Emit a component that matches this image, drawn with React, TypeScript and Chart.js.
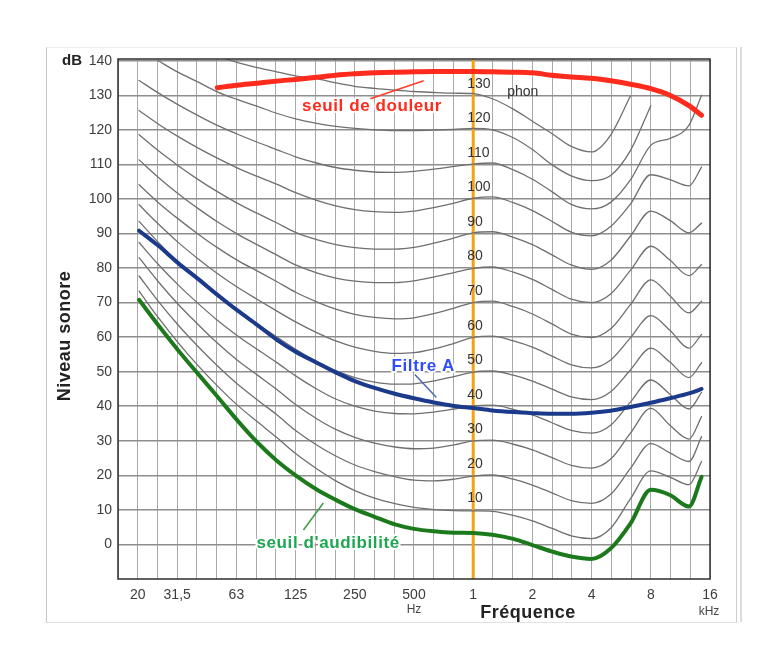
import React, { useEffect, useRef } from 'react';
import { Chart, registerables } from 'chart.js';

Chart.register(...registerables);

// Frequencies (Hz) at which all curves are sampled
const FREQ_HZ = [20, 25, 31.5, 40, 50, 63, 80, 100, 125, 160, 200, 250, 315, 400, 500, 630, 800, 1000, 1250, 1600, 2000, 2500, 3150, 4000, 5000, 6300, 8000, 10000, 12500, 14500];

// Equal-loudness contours (dB), one array per phon level
const PHON_10 = [73.3, 65.7, 58.5, 51.7, 45.9, 40.4, 35.5, 31, 26.3, 21.9, 18.4, 15.6, 13.4, 11.8, 10.7, 10.1, 9.8, 9.7, 9.6, 8.4, 6.8, 4.7, 2.5, 1.7, 4.7, 13.2, 21.3, 19.5, 17.3, 24];
const PHON_20 = [77.7, 70.4, 63.6, 57.2, 51.7, 46.5, 41.8, 37.6, 33, 28.8, 25.6, 23, 21.1, 19.6, 18.6, 18.4, 18.9, 19.8, 20.1, 18.9, 17.2, 15, 12.7, 11.9, 14.5, 22, 29.2, 26.5, 24, 31.2];
const PHON_30 = [83, 76.1, 69.6, 63.6, 58.3, 53.4, 49, 44.9, 40.5, 36.4, 33.3, 31, 29.3, 28.2, 27.7, 27.9, 28.8, 30, 30.2, 29, 27.4, 25.2, 22.9, 22.1, 24.7, 32.2, 39.4, 34.5, 30.5, 37];
const PHON_40 = [87.4, 81.1, 75.2, 69.7, 64.9, 60.5, 56.4, 52.7, 48.8, 45, 42.1, 40, 38.6, 37.9, 37.8, 38.3, 39.2, 40.1, 40.3, 39.1, 37.5, 35.3, 33, 32.2, 34.5, 41.2, 47.6, 43.5, 39.2, 44];
const PHON_50 = [93.5, 87.5, 81.8, 76.5, 71.8, 67.6, 63.7, 60.1, 56.5, 53, 50.3, 48.3, 47, 46.4, 46.5, 47.3, 48.6, 49.9, 50.2, 49, 47.3, 45, 42.7, 41.9, 44.2, 50.5, 56.8, 52.8, 48.3, 52.6];
const PHON_60 = [98.3, 92.8, 87.5, 82.6, 78.4, 74.5, 70.9, 67.6, 64.4, 61.3, 58.9, 57.1, 55.9, 55.3, 55.5, 56.6, 58.2, 59.9, 60.3, 58.9, 57.1, 54.6, 52, 51.1, 53.4, 59.8, 66.2, 62, 56.8, 60.8];
const PHON_70 = [104.1, 99, 94.3, 89.8, 85.9, 82.3, 79.1, 76.1, 73, 70.2, 68.1, 66.6, 65.7, 65.3, 65.6, 66.8, 68.4, 70, 70.4, 68.8, 66.7, 63.9, 60.9, 59.9, 62.4, 69.4, 76.6, 72, 67, 70.4];
const PHON_80 = [111.3, 106.3, 101.6, 97.2, 93.4, 89.9, 86.7, 83.8, 80.9, 78.6, 77.1, 76.2, 75.8, 75.8, 76.3, 77.4, 78.7, 79.9, 80.3, 78.8, 76.7, 73.9, 71, 70, 72.5, 79.3, 86.3, 82.3, 77.8, 81];
const PHON_90 = [118.6, 114, 109.7, 105.6, 102.1, 98.8, 95.8, 93.1, 90.3, 88.2, 86.8, 85.9, 85.5, 85.5, 86, 87.2, 88.7, 90.2, 90.5, 88.9, 86.8, 83.9, 80.9, 79.6, 82.2, 89.2, 96.5, 93.8, 90.2, 93];
const PHON_100 = [125.6, 121.7, 118.1, 114.7, 111.8, 109, 106.5, 104.3, 101.8, 99.6, 98, 96.9, 96.3, 96.1, 96.5, 97.5, 98.8, 100.2, 100.6, 98.9, 96.6, 93.6, 90.4, 89.3, 92, 98.5, 107, 105.6, 103.8, 109.2];
const PHON_110 = [134.3, 130.7, 127.3, 124.1, 121.3, 118.8, 116.4, 114.3, 112.2, 110.4, 109.1, 108.3, 107.8, 107.7, 108, 108.6, 109.4, 110.1, 110.4, 108.4, 105.7, 102.2, 98.4, 97.1, 99, 105.5, 115.5, 117.5, 121.3, 130];
const PHON_120 = [null, 140, 136.7, 133.8, 131, 128.8, 126.8, 124.8, 123.2, 121.9, 121, 120.4, 120, 119.8, 119.8, 119.9, 120.1, 120.4, 120, 117.7, 114.3, 110, 106.7, 105.3, 106.8, 114, 127, null, null, null];
const PHON_130 = [null, null, null, null, 141.5, 139.5, 138, 136.8, 135.6, 134.8, 133.6, 132.6, 132, 131.5, 131.1, 130.8, 130.6, 130.5, 129, 126, 122.5, 119, 115.2, 113.6, 118.5, 129.8, null, null, null, null];

const PHON_LEVELS = [10, 20, 30, 40, 50, 60, 70, 80, 90, 100, 110, 120, 130];
const CONTOURS = [PHON_10, PHON_20, PHON_30, PHON_40, PHON_50, PHON_60, PHON_70, PHON_80, PHON_90, PHON_100, PHON_110, PHON_120, PHON_130];

// Special curves
const HEARING_THRESHOLD = [70.8, 63.5, 56.3, 49.3, 42.8, 36, 29.5, 24.3, 20, 15.9, 12.9, 10.2, 8, 5.8, 4.5, 3.8, 3.4, 3.3, 2.8, 1.6, -0.2, -2, -3.5, -4.2, -1.2, 6, 15.8, 14.3, 11, 19.6];
const PAIN_THRESHOLD = [null, null, null, null, 132.2, 132.9, 133.5, 134.1, 134.6, 135.2, 135.8, 136.2, 136.5, 136.7, 136.8, 136.9, 136.9, 136.9, 136.8, 136.7, 136.5, 135.8, 135.3, 134.9, 134.2, 133.2, 131.9, 130, 127, 124.2];
const A_FILTER = [90.8, 86.5, 81.5, 76.8, 72.3, 67.8, 63.5, 59.3, 55.8, 52.6, 49.8, 47.3, 45.3, 43.6, 42.3, 41.1, 40.1, 39.5, 38.8, 38.3, 38, 37.8, 37.8, 38.1, 38.7, 39.8, 41, 42.3, 43.7, 45];

// Axis ticks
const X_TICK_FREQ = [20, 31.5, 63, 125, 250, 500, 1000, 2000, 4000, 8000, 16000];
const X_TICK_LABELS = ['20', '31,5', '63', '125', '250', '500', '1', '2', '4', '8', '16'];
const Y_TICKS = [0, 10, 20, 30, 40, 50, 60, 70, 80, 90, 100, 110, 120, 130, 140];

const FONT = '"Liberation Sans", Arial, Helvetica, sans-serif';

// third-octave grid lines from 15.6 Hz to 16 kHz
const GRID_FREQ = Array.from({ length: 31 }, (_, i) => 1000 * Math.pow(2, (i - 18) / 3));

function toPoints(values: (number | null)[]) {
  return FREQ_HZ.map((f, i) => ({ x: f, y: values[i] }));
}

function xLabel(v: number) {
  for (let i = 0; i < X_TICK_FREQ.length; i++) {
    if (Math.abs(Math.log2(v / X_TICK_FREQ[i])) < 0.1) return X_TICK_LABELS[i];
  }
  return '';
}

function haloText(ctx: CanvasRenderingContext2D, text: string, x: number, y: number, color: string) {
  ctx.lineJoin = 'round';
  ctx.strokeStyle = 'rgba(255,255,255,0.95)';
  ctx.lineWidth = 4;
  ctx.strokeText(text, x, y);
  ctx.fillStyle = color;
  ctx.fillText(text, x, y);
}

const overlayPlugin = {
  id: 'overlay',
  beforeDatasetsDraw(chart: any) {
    const { ctx, chartArea: a, scales } = chart;
    const px = scales.x.getPixelForValue(1000);
    ctx.save();
    ctx.strokeStyle = '#f2a30f';
    ctx.lineWidth = 3;
    ctx.beginPath();
    ctx.moveTo(px, a.top);
    ctx.lineTo(px, a.bottom);
    ctx.stroke();
    ctx.restore();
  },
  afterDatasetsDraw(chart: any) {
    const { ctx, chartArea: a, scales } = chart;
    const x = scales.x;
    const y = scales.y;
    ctx.save();
    // plot frame
    ctx.strokeStyle = '#2e2e2e';
    ctx.lineWidth = 1.5;
    ctx.strokeRect(a.left, a.top, a.right - a.left, a.bottom - a.top);

    // phon labels along 1 kHz
    const px = x.getPixelForValue(1000);
    ctx.font = `14px ${FONT}`;
    ctx.fillStyle = '#333';
    ctx.textAlign = 'left';
    ctx.textBaseline = 'middle';
    PHON_LEVELS.forEach((p) => {
      ctx.fillText(String(p), px - 6, y.getPixelForValue(p + 3.3));
    });
    ctx.fillText('phon', px + 34, y.getPixelForValue(131));

    // leader lines
    const leader = (f1: number, d1: number, f2: number, d2: number, color: string) => {
      ctx.strokeStyle = color;
      ctx.lineWidth = 1.5;
      ctx.beginPath();
      ctx.moveTo(x.getPixelForValue(f1), y.getPixelForValue(d1));
      ctx.lineTo(x.getPixelForValue(f2), y.getPixelForValue(d2));
      ctx.stroke();
    };
    leader(300, 129, 560, 134.2, '#ff3b2b');
    leader(505, 49.2, 650, 42.5, '#4a6aa8');
    leader(137, 4.2, 173, 12, '#3f9a3f');

    // curve labels
    ctx.font = `bold 17px ${FONT}`;
    (ctx as any).letterSpacing = '0.6px';
    ctx.textAlign = 'center';
    ctx.textBaseline = 'middle';
    haloText(ctx, 'seuil de douleur', x.getPixelForValue(306), y.getPixelForValue(126.7), '#ff2b1c');
    haloText(ctx, 'Filtre A', x.getPixelForValue(557), y.getPixelForValue(51.5), '#2e4dff');
    haloText(ctx, "seuil d'audibilité", x.getPixelForValue(183), y.getPixelForValue(0.4), '#1fa653');
    (ctx as any).letterSpacing = '0px';
    ctx.restore();
  },
  afterDraw(chart: any) {
    const { ctx, scales } = chart;
    ctx.save();
    ctx.fillStyle = '#222';
    ctx.textBaseline = 'middle';
    ctx.textAlign = 'center';
    ctx.font = `bold 15px ${FONT}`;
    ctx.fillText('dB', 72, 61);
    ctx.font = `bold 18px ${FONT}`;
    (ctx as any).letterSpacing = '0.5px';
    ctx.fillText('Fréquence', 528, 613);
    ctx.save();
    ctx.translate(65, 336);
    ctx.rotate(-Math.PI / 2);
    ctx.fillText('Niveau sonore', 0, 0);
    ctx.restore();
    (ctx as any).letterSpacing = '0px';
    ctx.font = `12px ${FONT}`;
    ctx.fillStyle = '#444';
    ctx.fillText('Hz', scales.x.getPixelForValue(500), 610);
    ctx.fillText('kHz', scales.x.getPixelForValue(16000) - 1, 612);
    ctx.restore();
  },
};

export default function App() {
  const ref = useRef<HTMLCanvasElement>(null);

  useEffect(() => {
    const canvas = ref.current;
    if (!canvas) return;
    const base = {
      pointRadius: 0,
      pointHoverRadius: 0,
      fill: false,
      cubicInterpolationMode: 'monotone' as const,
      spanGaps: false,
      borderCapStyle: 'round' as const,
      borderJoinStyle: 'round' as const,
    };
    const datasets: any[] = [
      { ...base, label: 'seuil de douleur', data: toPoints(PAIN_THRESHOLD), borderColor: '#ff2b1c', borderWidth: 5 },
      { ...base, label: "seuil d'audibilité", data: toPoints(HEARING_THRESHOLD), borderColor: '#1c7a1c', borderWidth: 4 },
      { ...base, label: 'Filtre A', data: toPoints(A_FILTER), borderColor: '#1b3a8b', borderWidth: 4 },
      ...CONTOURS.map((vals, i) => ({
        ...base,
        label: `${PHON_LEVELS[i]} phon`,
        data: toPoints(vals),
        borderColor: '#6f6f6f',
        borderWidth: 1.3,
      })),
    ];

    const chart = new Chart(canvas, {
      type: 'line',
      data: { datasets },
      options: {
        responsive: false,
        animation: false,
        devicePixelRatio: 1,
        layout: { padding: { top: 59, right: 51, bottom: 0, left: 0 } },
        plugins: { legend: { display: false }, tooltip: { enabled: false } },
        scales: {
          x: {
            type: 'logarithmic',
            min: 15.625,
            max: 16000,
            afterBuildTicks: (s: any) => {
              s.ticks = GRID_FREQ.map((v) => ({ value: v }));
            },
            afterFit: (s: any) => {
              s.height = 73;
            },
            grid: { color: '#a9a9a9', lineWidth: 1, drawTicks: false },
            border: { display: false },
            ticks: {
              autoSkip: false,
              maxRotation: 0,
              minRotation: 0,
              padding: 8,
              color: '#3d3d3d',
              font: { family: FONT, size: 14 },
              callback: (v: any) => xLabel(Number(v)),
            },
          },
          y: {
            type: 'linear',
            min: -10,
            max: 140.5,
            afterBuildTicks: (s: any) => {
              s.ticks = Y_TICKS.map((v) => ({ value: v }));
            },
            afterFit: (s: any) => {
              s.width = 118;
            },
            grid: { color: '#8e8e8e', lineWidth: 1.5, drawTicks: false },
            border: { display: false },
            ticks: {
              padding: 6,
              color: '#3d3d3d',
              font: { family: FONT, size: 14 },
              callback: (v: any) => String(v),
            },
          },
        },
      },
      plugins: [overlayPlugin],
    } as any);
    return () => chart.destroy();
  }, []);

  return (
    <div style={{ position: 'absolute', left: 0, top: 0, width: 761, height: 652, background: '#fff' }}>
      <div
        style={{
          position: 'absolute',
          left: 46,
          top: 47,
          width: 689,
          height: 574,
          borderLeft: '1px solid #c4c4c4',
          borderTop: '1px solid #ededed',
          borderBottom: '1px solid #e2e2e2',
          borderRight: '1px solid #cfcfcf',
        }}
      />
      <div style={{ position: 'absolute', left: 740, top: 47, width: 0, height: 575, borderLeft: '2px solid #dcdcdc' }} />
      <canvas
        ref={ref}
        width={761}
        height={652}
        style={{ position: 'absolute', left: 0, top: 0, width: 761, height: 652 }}
      />
    </div>
  );
}
